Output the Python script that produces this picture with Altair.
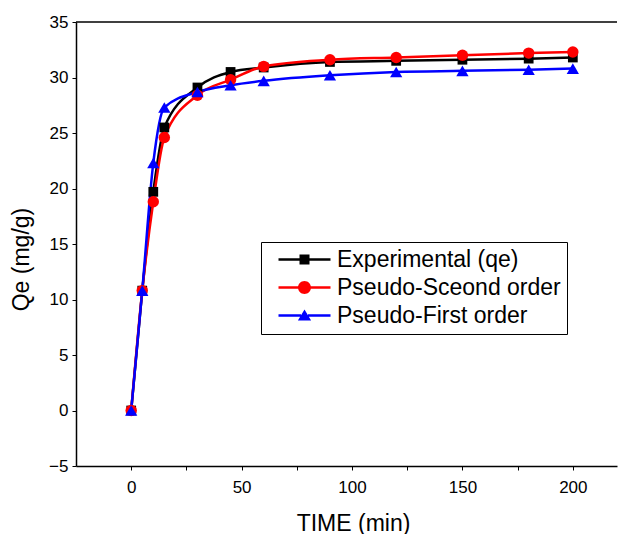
import altair as alt
import pandas as pd

TIME = [0, 5, 10, 15, 30, 45, 60, 90, 120, 150, 180, 200]
EXPERIMENTAL = [0, 10.8, 19.7, 25.5, 29.1, 30.5, 30.9, 31.4, 31.5, 31.6, 31.7, 31.8]
PSEUDO_SECOND = [0, 10.8, 18.8, 24.6, 28.4, 29.8, 31.0, 31.6, 31.8, 32.0, 32.2, 32.3]
PSEUDO_FIRST = [0, 10.8, 22.3, 27.3, 28.7, 29.3, 29.7, 30.2, 30.5, 30.6, 30.7, 30.8]

SERIES = ["Experimental (qe)", "Pseudo-Sceond order", "Pseudo-First order"]
COLORS = ["#000000", "#ff0000", "#0000ff"]
SHAPES = ["square", "circle", "triangle-up"]
SIZES = [95, 130, 150]

X_TICKS = [0, 25, 50, 75, 100, 125, 150, 175, 200]
Y_TICKS = [-5, -2.5, 0, 2.5, 5, 7.5, 10, 12.5, 15, 17.5, 20, 22.5, 25, 27.5, 30, 32.5, 35]
X_DOMAIN = [-25, 220]
Y_DOMAIN = [-5, 35]

FONT = "Liberation Sans"

rows = []
for name, vals in zip(SERIES, [EXPERIMENTAL, PSEUDO_SECOND, PSEUDO_FIRST]):
    for t, v in zip(TIME, vals):
        rows.append({"time": t, "qe": v, "series": name})
df = pd.DataFrame(rows)

# legend symbols: line segment + marker (unit = 10 px, symbolSize 400)
L0, L1, C = 0.0, 5.2, 2.6
SQ = (f"M{L0},-0.125H{C-0.5}V0.125H{L0}Z M{C+0.5},-0.125H{L1}V0.125H{C+0.5}Z "
      f"M{C-0.5},-0.5H{C+0.5}V0.5H{C-0.5}Z")
CI = (f"M{L0},-0.125H{C-0.62}V0.125H{L0}Z M{C+0.62},-0.125H{L1}V0.125H{C+0.62}Z "
      f"M{C-0.65},0A0.65,0.65 0 1,1 {C+0.65},0A0.65,0.65 0 1,1 {C-0.65},0Z")
TR = (f"M{L0},-0.125H{C-0.35}V0.125H{L0}Z M{C+0.35},-0.125H{L1}V0.125H{C+0.35}Z "
      f"M{C},-0.6L{C+0.66},0.5L{C-0.66},0.5Z")
shape_expr = (f"datum.value === '{SERIES[0]}' ? '{SQ}' : "
              f"(datum.value === '{SERIES[1]}' ? '{CI}' : '{TR}')")

legend = alt.Legend(
    title=None,
    orient="none",
    legendX=185,
    legendY=220,
    strokeColor="black",
    fillColor="white",
    padding=6,
    symbolSize=400,
    symbolType={"expr": shape_expr},
    symbolStrokeWidth=0,
    symbolOpacity=1,
    labelFont=FONT,
    labelFontSize=23,
    labelColor="black",
    labelOffset=47,
    labelLimit=400,
    rowPadding=4,
)

x_enc = alt.X(
    "time:Q",
    scale=alt.Scale(domain=X_DOMAIN, nice=False, zero=False),
    axis=alt.Axis(
        values=X_TICKS,
        labelExpr="datum.value % 50 == 0 ? datum.label : ''",
        title="TIME (min)",
        grid=False,
        titlePadding=17,
        titleX=277,
        titleAlign="center",
        titleFontSize=23,
    ),
)
y_enc = alt.Y(
    "qe:Q",
    scale=alt.Scale(domain=Y_DOMAIN, nice=False, zero=False),
    axis=alt.Axis(
        values=Y_TICKS,
        labelExpr="datum.value % 5 == 0 ? datum.label : ''",
        title="Qe (mg/g)",
        grid=False,
        titleX=-43,
        titleY=237,
        titleAngle=-90,
        titleAlign="center",
        titleBaseline="bottom",
        titleFontSize=23,
    ),
)

base = alt.Chart(df).encode(x=x_enc, y=y_enc)

color_scale = alt.Scale(domain=SERIES, range=COLORS)

point_layers = []
for name, shp, sz in zip(SERIES, SHAPES, SIZES):
    point_layers.append(
        base.transform_filter(alt.datum.series == name).mark_point(
            filled=True, opacity=1, shape=shp, size=sz
        ).encode(color=alt.Color("series:N", scale=color_scale, legend=legend))
    )

lines = base.mark_line(interpolate="monotone", strokeWidth=2.5).encode(
    color=alt.Color("series:N", scale=color_scale, legend=legend)
)

frame = alt.Chart(pd.DataFrame({"top": [Y_DOMAIN[1]]})).mark_rule(
    color="black", strokeWidth=1.5
).encode(y=alt.Y("top:Q"))

chart = alt.layer(lines, *point_layers, frame).properties(
    width=541,
    height=444,
    autosize=alt.AutoSizeParams(type="none"),
    padding={"left": 76, "top": 22, "right": 2, "bottom": 68},
).configure_view(stroke=None).configure_axis(
    labelFont=FONT,
    labelFontSize=17,
    labelColor="black",
    titleFont=FONT,
    titleFontSize=22,
    titleFontWeight="normal",
    titleColor="black",
    domainColor="black",
    domainWidth=1.5,
    tickColor="black",
    tickSize=4,
    tickWidth=1,
).configure_axisX(labelPadding=9).configure_axisY(labelPadding=4)

chart.save("out.html", embed_options={"renderer": "svg", "actions": False})
